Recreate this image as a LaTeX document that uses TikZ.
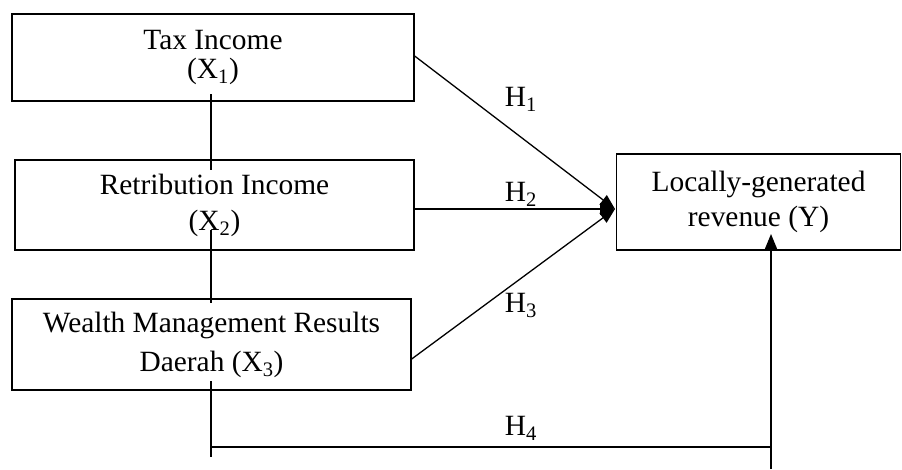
\documentclass[tikz,border=0pt]{standalone}
\usepackage{fontspec}
\setmainfont{Liberation Serif}
\usetikzlibrary{arrows.meta,calc}
\begin{document}
\begin{tikzpicture}[x=1pt,y=-1pt,
  box/.style={draw,line width=1.3pt,inner sep=0pt,align=center,font=\fontsize{29.4}{33}\selectfont},
  conn/.style={line width=1.3pt},
  arr/.style={line width=1.3pt,-{Triangle[length=15pt,width=12pt]}},
  hlab/.style={font=\fontsize{29.4}{33}\selectfont,inner sep=0pt}]
\useasboundingbox (0,0) rectangle (902,469);
\node[box,minimum width=402pt,minimum height=87pt] (x1) at (213,57.5) {Tax Income\\[-4pt](X\textsubscript{1})};
\node[box,minimum width=399pt,minimum height=90pt] (x2) at (214.5,205) {Retribution Income\\[3pt](X\textsubscript{2})};
\node[box,minimum width=399pt,minimum height=91pt] (x3) at (211.5,344.5) {Wealth Management Results\\[6pt]Daerah (X\textsubscript{3})};
\node[box,minimum width=284pt,minimum height=96pt] (y) at (758.5,202) {Locally-generated\\[2pt]revenue (Y)};
\coordinate (a1) at (211,94);
\coordinate (a2) at (211,170);
\coordinate (b1) at (211,230);
\coordinate (b2) at (211,303);
\coordinate (c1) at (211,381);
\coordinate (c2) at (211,457);
\coordinate (c3) at (211,447);
\coordinate (d1) at (771,447);
\coordinate (d2) at (771,469);
\coordinate (yt) at (771,234);
\coordinate (yl) at (615,209);
\draw[conn] (a1) -- (a2);
\draw[conn] (b1) -- (b2);
\draw[conn] (c1) -- (c2);
\draw[conn] (c3) -- (d1);
\draw[arr] (d2) -- (yt);
\draw[arr] (x1.east |- 0,56) -- (yl);
\draw[arr] (x2.east |- 0,209) -- (yl);
\draw[arr] (x3.east |- 0,359) -- (yl);
\node[hlab] (h1) at (521,99) {H\textsubscript{1}};
\node[hlab] (h2) at (521,194) {H\textsubscript{2}};
\node[hlab] (h3) at (521,305) {H\textsubscript{3}};
\node[hlab] (h4) at (521,428) {H\textsubscript{4}};
\end{tikzpicture}
\end{document}
